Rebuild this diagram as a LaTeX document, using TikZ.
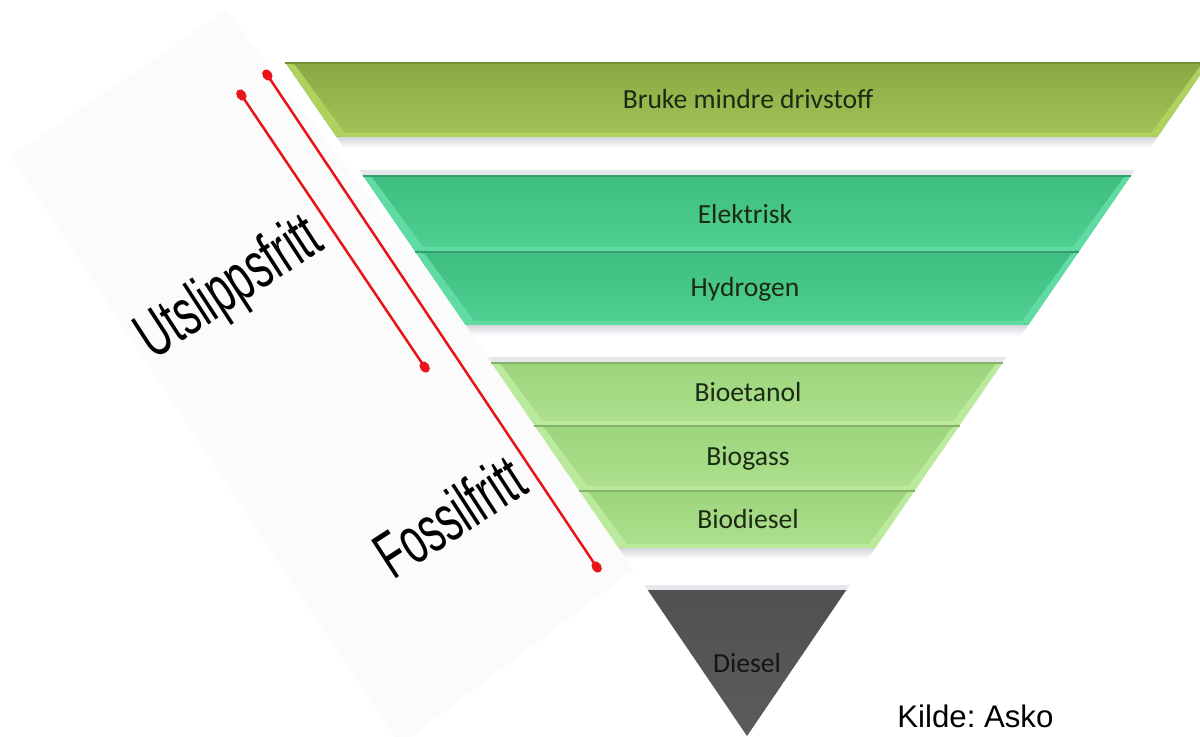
\documentclass[tikz,border=0pt]{standalone}
\usepackage{fontspec}
\setmainfont{Carlito}
\newfontfamily\arialf{Liberation Sans}
\usetikzlibrary{arrows.meta}
\frenchspacing
\definecolor{labeltext}{HTML}{1C2A14}
\definecolor{redl}{HTML}{E8141A}
\definecolor{panelc}{HTML}{FBFBFB}
\definecolor{olivetop}{HTML}{89A843}
\definecolor{olivebot}{HTML}{A2C457}
\definecolor{olivebev}{HTML}{AFD25E}
\definecolor{greentop}{HTML}{3DBD7F}
\definecolor{greenbot}{HTML}{50D093}
\definecolor{greenbev}{HTML}{60DCA2}
\definecolor{biotop}{HTML}{9CD47C}
\definecolor{biobot}{HTML}{AEE18E}
\definecolor{biobev}{HTML}{BCEA9C}
\definecolor{gapgray}{HTML}{D6D6DE}
\definecolor{gapline}{HTML}{E6E6EC}
\definecolor{dieseltop}{HTML}{505050}
\definecolor{dieselbot}{HTML}{5C5C5C}
\newcommand\myband[5]{%
  \pgfmathsetmacro\xa{285+0.687*(#1-62)}%
  \pgfmathsetmacro\xb{1494-\xa}%
  \pgfmathsetmacro\xc{285+0.687*(#2-62)}%
  \pgfmathsetmacro\xd{1494-\xc}%
  \shade[top color=#3, bottom color=#4] (\xa,#1) -- (\xb,#1) -- (\xd,#2) -- (\xc,#2) -- cycle;
  \fill[#5] (\xa,#1) -- (\xa+10,#1+3) -- (\xc+9,#2-3) -- (\xc,#2) -- cycle;
  \fill[#5] (\xb,#1) -- (\xb-8,#1+3) -- (\xd-7,#2-3) -- (\xd,#2) -- cycle;
  \draw[#3!85!black, line width=1] (\xa,#1+0.5) -- (\xb,#1+0.5);
  \draw[#5, line width=2.5] (\xc+4,#2-1.5) -- (\xd-4,#2-1.5);
}
\newcommand\mygap[2]{%
  \pgfmathsetmacro\xa{285+0.687*(#1-62)}%
  \pgfmathsetmacro\xb{1494-\xa}%
  \pgfmathsetmacro\xc{285+0.687*(#2-62)}%
  \pgfmathsetmacro\xd{1494-\xc}%
  \pgfmathsetmacro\xe{285+0.687*(#1+11-62)}%
  \pgfmathsetmacro\xf{1494-\xe}%
  \pgfmathsetmacro\xg{285+0.687*(#2-5-62)}%
  \pgfmathsetmacro\xh{1494-\xg}%
  \fill[white] (\xa,#1) -- (\xb,#1) -- (\xd,#2) -- (\xc,#2) -- cycle;
  \shade[top color=gapgray, bottom color=white] (\xa,#1) -- (\xb,#1) -- (\xf,#1+11) -- (\xe,#1+11) -- cycle;
  \fill[gapline] (\xg,#2-5) -- (\xh,#2-5) -- (\xd,#2) -- (\xc,#2) -- cycle;
}
\tikzset{
  lbl/.style={font=\fontsize{13.8}{16}\selectfont, text=labeltext, inner sep=0pt, anchor=base},
  sidetxt/.style={font=\arialf\fontsize{33}{36}\selectfont, text=black, rotate=33, inner sep=0pt, anchor=base},
  redline/.style={draw=redl, line width=1.25pt, {Circle[length=6pt,width=4.6pt]}-{Circle[length=6pt,width=4.6pt]}},
  srcnote/.style={font=\arialf\fontsize{15.6}{18}\selectfont, text=black, inner sep=0pt, anchor=base west}
}
\begin{document}
\begin{tikzpicture}[x=0.5pt,y=-0.5pt]
\useasboundingbox (0,0) rectangle (1200,736);
\fill[white] (0,0) rectangle (1200,736);
% left panel
\fill[panelc] (226,10) -- (11,157) -- (400,745) -- (647,560) -- cycle;
% bands
\myband{62}{137}{olivetop}{olivebot}{olivebev}
\mygap{137}{175}
\myband{175}{251}{greentop}{greenbot}{greenbev}
\myband{251}{325}{greentop}{greenbot}{greenbev}
\mygap{325}{362}
\myband{362}{425}{biotop}{biobot}{biobev}
\myband{425}{490}{biotop}{biobot}{biobev}
\myband{490}{548}{biotop}{biobot}{biobev}
\mygap{548}{590}
\shade[top color=dieseltop, bottom color=dieselbot] (647.7,590) -- (846.3,590) -- (747,736) -- cycle;
% labels
\node[lbl] (bruke) at (748,108) {Bruke mindre drivstoff};
\node[lbl] (elektrisk) at (745,223) {Elektrisk};
\node[lbl] (hydrogen) at (745,296) {Hydrogen};
\node[lbl] (bioetanol) at (748,401) {Bioetanol};
\node[lbl] (biogass) at (748,465) {Biogass};
\node[lbl] (biodiesel) at (748,528) {Biodiesel};
\node[lbl, text=black!92] (diesel) at (747,672) {Diesel};
% side labels
\node[sidetxt] (utsl) at (240,304) {\scalebox{0.63}[1]{Utslippsfritt}};
\node[sidetxt] (fossil) at (462,536) {\scalebox{0.62}[1]{Fossilfritt}};
% red range lines
\coordinate (a1) at (238,90);
\coordinate (a2) at (428,372);
\coordinate (b1) at (264,70);
\coordinate (b2) at (600,572);
\draw[redline] (a1) -- (a2);
\draw[redline] (b1) -- (b2);
% source
\node[srcnote] (kilde) at (897,727) {Kilde: Asko};
\end{tikzpicture}
\end{document}
